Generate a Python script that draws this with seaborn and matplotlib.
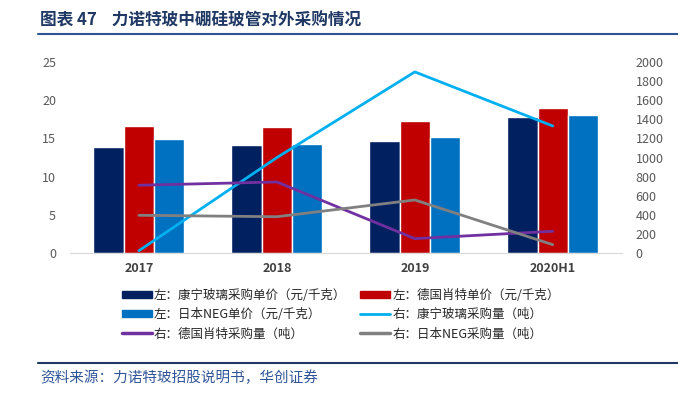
import numpy as np
import pandas as pd
import seaborn as sns
import matplotlib.pyplot as plt
from matplotlib.patches import Patch
from matplotlib.lines import Line2D

# data
years = ['2017', '2018', '2019', '2020H1']
corning_price = [13.9, 14.1, 14.7, 17.8]
schott_price = [16.6, 16.5, 17.3, 19.0]
neg_price = [14.9, 14.3, 15.2, 18.1]
corning_qty = [27, 1000, 1895, 1330]
schott_qty = [711, 745, 153, 230]
neg_qty = [397, 382, 557, 90]

price_names = ['左：康宁玻璃采购单价（元/千克）', '左：德国肖特单价（元/千克）', '左：日本NEG单价（元/千克）']
qty_names = ['右：康宁玻璃采购量（吨）', '右：德国肖特采购量（吨）', '右：日本NEG采购量（吨）']
bar_colors = ['#002060', '#C00000', '#0070C0']
line_colors = ['#00B0F0', '#7030A0', '#808080']

sns.set_style('white')
plt.rcParams['font.family'] = ['Noto Sans CJK SC', 'DejaVu Sans']

prices = pd.DataFrame({
    'year': years * 3,
    'series': np.repeat(price_names, len(years)),
    'value': corning_price + schott_price + neg_price,
})

fig = plt.figure(figsize=(6.78, 3.98), dpi=100)
ax = fig.add_axes([0.1032, 0.3636, 0.8138, 0.481])

sns.barplot(data=prices, x='year', y='value', hue='series', palette=bar_colors,
            width=0.66, saturation=1, ax=ax, legend=False)
ax.set_xlim(-0.5, 3.5)
ax.set_ylim(0, 25)
ax.set_yticks(range(0, 26, 5))
ax.set_xlabel('')
ax.set_ylabel('')
for s in ['top', 'right', 'left']:
    ax.spines[s].set_visible(False)
ax.spines['bottom'].set_color('#D9D9D9')
ax.tick_params(axis='y', length=0, labelsize=9, labelcolor='#595959', pad=10)
ax.tick_params(axis='x', length=0, labelsize=9, labelcolor='#404040', pad=6)
for t in ax.get_xticklabels():
    t.set_fontweight('bold')

ax2 = ax.twinx()
xpos = list(range(len(years)))
for vals, c in zip([corning_qty, schott_qty, neg_qty], line_colors):
    sns.lineplot(x=xpos, y=vals, color=c, linewidth=2.0, ax=ax2)
ax2.set_ylim(0, 2000)
ax2.set_yticks(range(0, 2001, 200))
ax2.set_xlim(-0.5, 3.5)
for s in ['top', 'right', 'left', 'bottom']:
    ax2.spines[s].set_visible(False)
ax2.tick_params(axis='y', length=0, labelsize=9, labelcolor='#595959', pad=10)

# legend
h = {
    price_names[0]: Patch(color=bar_colors[0]),
    price_names[1]: Patch(color=bar_colors[1]),
    price_names[2]: Patch(color=bar_colors[2]),
    qty_names[0]: Line2D([], [], color=line_colors[0], lw=2),
    qty_names[1]: Line2D([], [], color=line_colors[1], lw=2.5),
    qty_names[2]: Line2D([], [], color=line_colors[2], lw=2.5),
}
order = [price_names[0], price_names[2], qty_names[1],
         price_names[1], qty_names[0], qty_names[2]]
fig.legend([h[k] for k in order], order, ncol=2, loc='upper left',
           bbox_to_anchor=(0.17, 0.29), frameon=False, fontsize=9,
           handlelength=2.4, handleheight=0.5, columnspacing=1.1,
           labelspacing=0.5, handletextpad=0.2, borderpad=0)

# title and source
navy = '#1F3864'
fig.text(0.059, 0.948, '图表 47    力诺特玻中硼硅玻管对外采购情况', fontsize=12,
         fontweight='bold', color=navy, va='center')
fig.add_artist(Line2D([0.056, 1.0], [0.914, 0.914], color='#2F5597', lw=1.5))
fig.add_artist(Line2D([0.056, 1.0], [0.088, 0.088], color='#1F3864', lw=1.5))
fig.text(0.059, 0.05, '资料来源：力诺特玻招股说明书，华创证券', fontsize=10.5,
         style='italic', color='#2F5597', va='center')

fig.savefig('out.png', dpi=100)
